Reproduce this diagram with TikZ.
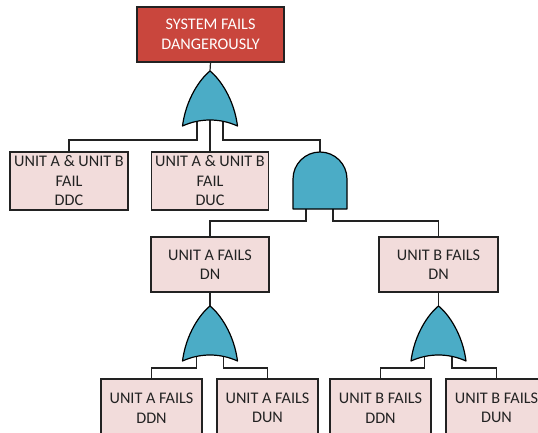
\documentclass[tikz,border=0pt]{standalone}
\usepackage{fontspec}
\setmainfont{Carlito}
\definecolor{topfill}{HTML}{C9463D}
\definecolor{eventfill}{HTML}{F2DCDB}
\definecolor{gatefill}{HTML}{4BACC6}
\definecolor{ink}{HTML}{222222}
\begin{document}
\begin{tikzpicture}[x=1pt,y=-1pt,
  wire/.style={draw=ink,line width=1.2pt},
  eventbox/.style={draw=ink,line width=1.2pt,fill=eventfill,text=ink,align=center,
    inner sep=0pt,font=\fontsize{16.2}{19.5}\selectfont},
  topbox/.style={eventbox,fill=topfill,text=white},
  gateshape/.style={draw=black,line width=1.2pt,fill=gatefill,line join=round},
  orgate/.pic={\path[gateshape] (0,0) .. controls (-10,8) and (-24,28) .. (-27.5,55)
      .. controls (-10,47) and (10,47) .. (27.5,55)
      .. controls (24,28) and (10,8) .. (0,0) -- cycle;},
  andgate/.pic={\path[gateshape] (-27,57) -- (-27,27)
      .. controls (-27,12.1) and (-14.9,0) .. (0,0)
      .. controls (14.9,0) and (27,12.1) .. (27,27) -- (27,57) -- cycle;}
]
\useasboundingbox (0,0) rectangle (538,433);
\clip (0,0) rectangle (538,433);

% events
\node[topbox,minimum width=147pt,minimum height=55pt] (top) at (210.5,34.5) {SYSTEM FAILS\\DANGEROUSLY};
\node[eventbox,minimum width=118pt,minimum height=58pt] (ddc) at (69,181) {UNIT A \& UNIT B\\FAIL\\DDC};
\node[eventbox,minimum width=117pt,minimum height=58pt] (duc) at (210,181) {UNIT A \& UNIT B\\FAIL\\DUC};
\node[eventbox,minimum width=118pt,minimum height=55pt] (ua) at (210,264.5) {UNIT A FAILS\\DN};
\node[eventbox,minimum width=119pt,minimum height=55pt] (ub) at (438.5,264.5) {UNIT B FAILS\\DN};
\node[eventbox,minimum width=101pt,minimum height=58pt] (addn) at (151.5,408) {UNIT A FAILS\\DDN};
\node[eventbox,minimum width=101pt,minimum height=58pt] (adun) at (267.5,408) {UNIT A FAILS\\DUN};
\node[eventbox,minimum width=101pt,minimum height=58pt] (bddn) at (380.5,408) {UNIT B FAILS\\DDN};
\node[eventbox,minimum width=101pt,minimum height=58pt] (bdun) at (496.5,408) {UNIT B FAILS\\DUN};

% gate outputs (tips) and inputs
\coordinate (g1) at (210,71);
\coordinate (g1l) at (197,115);
\coordinate (g1m) at (210,115);
\coordinate (g1r) at (223,115);
\coordinate (ga) at (320,152);
\coordinate (gal) at (306,200);
\coordinate (gar) at (333,200);
\coordinate (g2) at (210,306);
\coordinate (g2l) at (196.5,350);
\coordinate (g2r) at (223.5,350);
\coordinate (g3) at (438.5,306);
\coordinate (g3l) at (424.5,350);
\coordinate (g3r) at (452,350);

% connectors
\draw[wire] (top.south) -- (g1);
\draw[wire] (g1l) -- ++(0,25) -| (ddc.north);
\draw[wire] (g1m) -- (duc.north);
\draw[wire] (g1r) -- ++(0,25) -| (ga);
\draw[wire] (gal) -- ++(0,21) -| (ua.north);
\draw[wire] (gar) -- ++(0,21) -| (ub.north);
\draw[wire] (ua.south) -- (g2);
\draw[wire] (ub.south) -- (g3);
\draw[wire] (g2l) -- ++(0,18) -| (addn.north);
\draw[wire] (g2r) -- ++(0,18) -| (adun.north);
\draw[wire] (g3l) -- ++(0,18) -| (bddn.north);
\draw[wire] (g3r) -- ++(0,18) -| (bdun.north);

% gates
\pic at (g1) {orgate};
\pic at (ga) {andgate};
\pic at (g2) {orgate};
\pic at (g3) {orgate};
\end{tikzpicture}
\end{document}
